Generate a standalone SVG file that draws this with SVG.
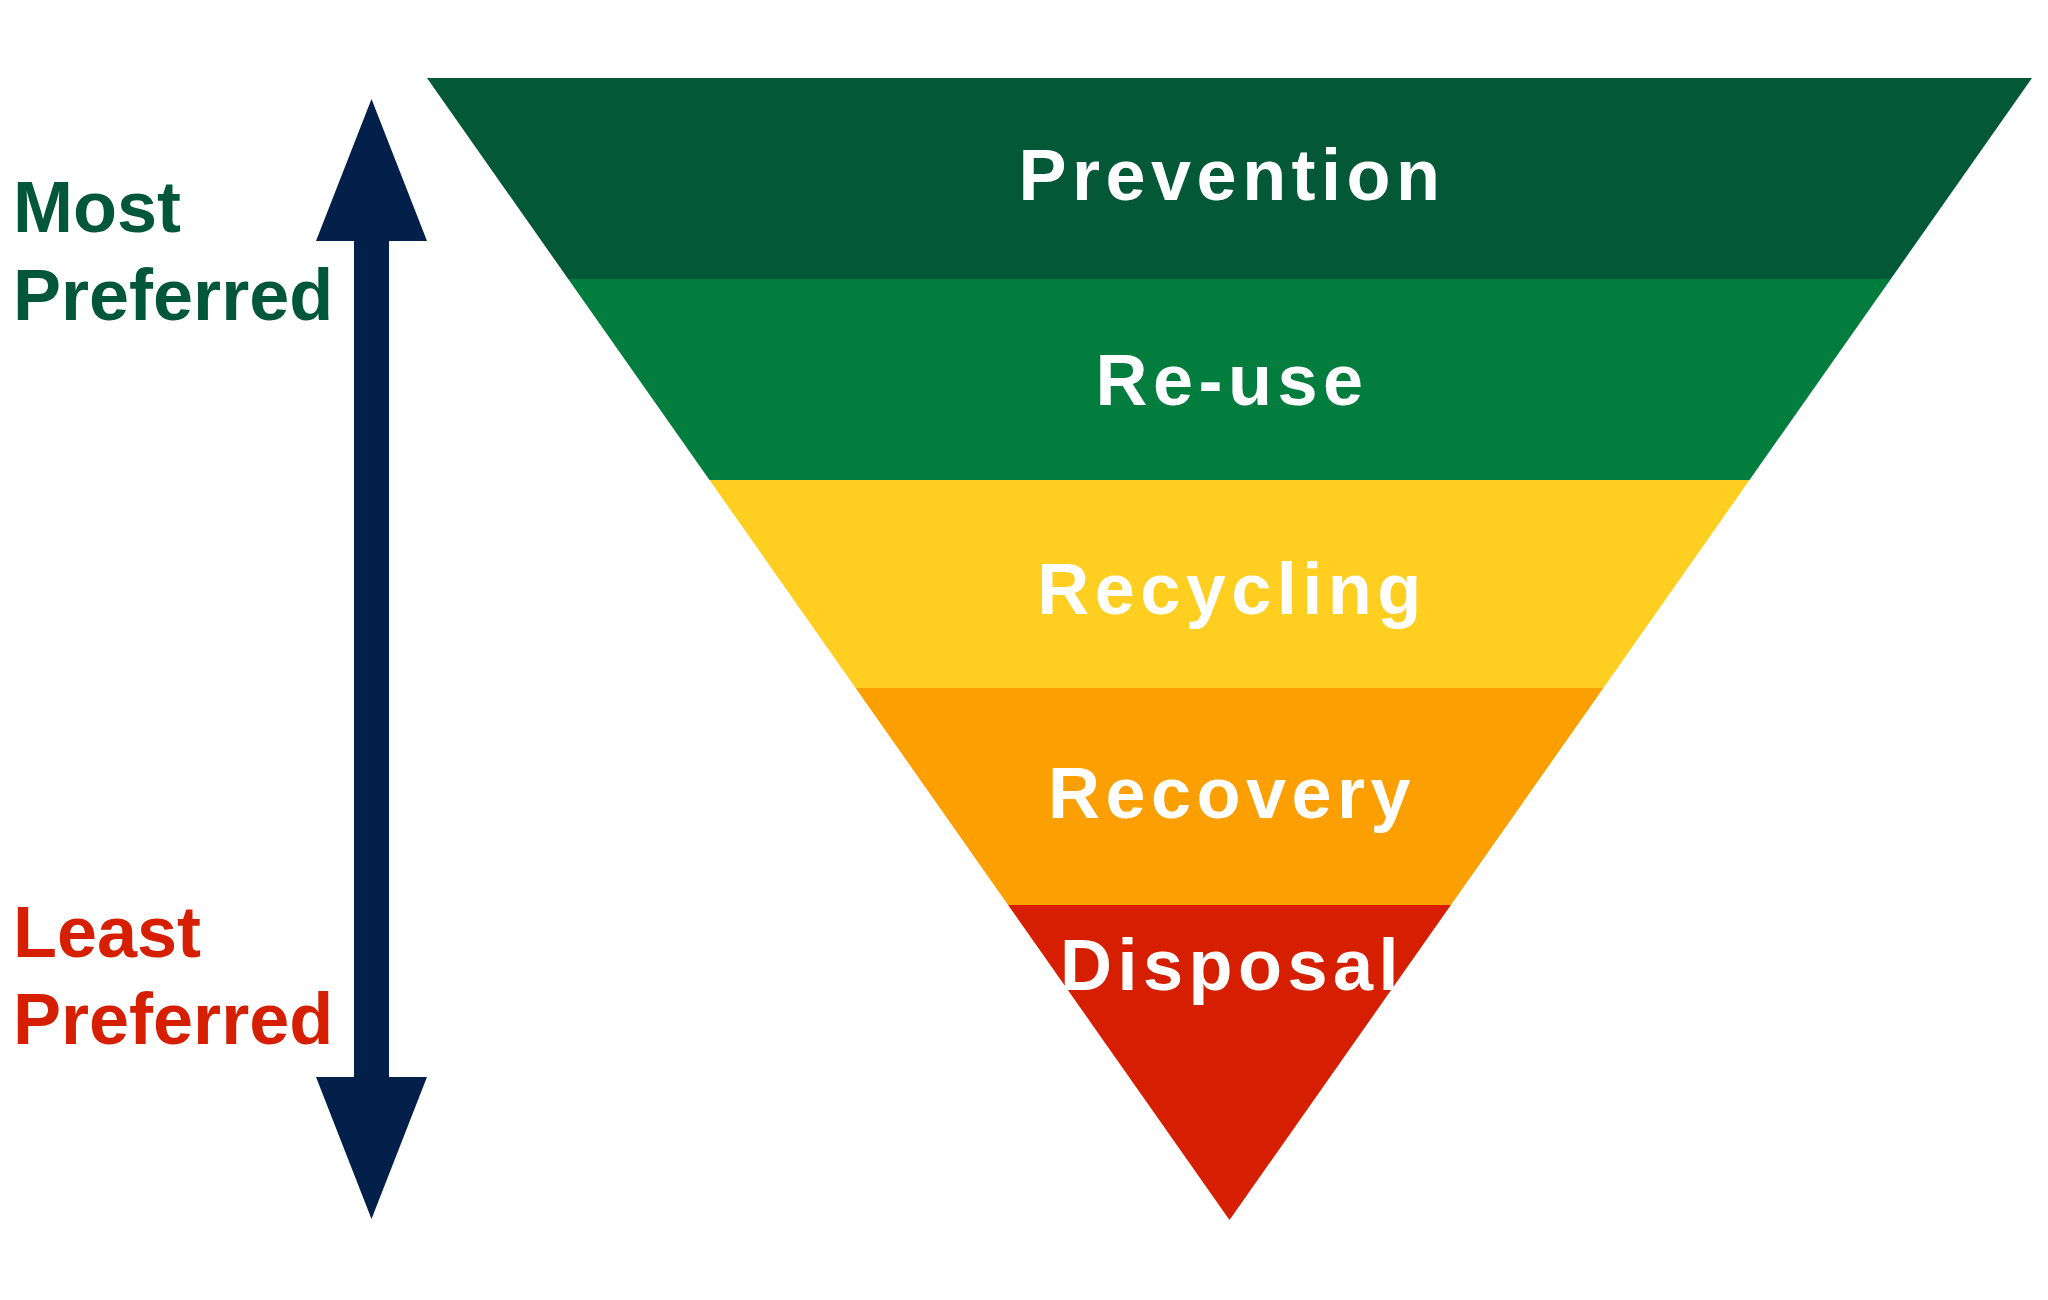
<svg xmlns="http://www.w3.org/2000/svg" width="2048" height="1300" viewBox="0 0 2048 1300">
<style>
.lbl { font-family: "Liberation Sans", Arial, Helvetica, sans-serif; font-weight: bold; font-size: 72px; fill: #ffffff; letter-spacing: 5.5px; text-anchor: middle; }
.side { font-family: "Liberation Sans", Arial, Helvetica, sans-serif; font-weight: bold; font-size: 72px; }
</style>
<rect width="2048" height="1300" fill="#ffffff"/>
<g id="prevention">
<polygon points="427,78 2032,78 1890.8,279 568.2,279" fill="#025837"/>
<text class="lbl" x="1232" y="200">Prevention</text>
</g>
<g id="reuse">
<polygon points="568.2,279 1890.8,279 1749.5,480 709.5,480" fill="#037d3e"/>
<text class="lbl" x="1232" y="405">Re-use</text>
</g>
<g id="recycling">
<polygon points="709.5,480 1749.5,480 1603.4,688 855.6,688" fill="#fece20"/>
<text class="lbl" x="1232" y="614">Recycling</text>
</g>
<g id="recovery">
<polygon points="855.6,688 1603.4,688 1450.9,905 1008.1,905" fill="#fb9f02"/>
<text class="lbl" x="1232" y="818">Recovery</text>
</g>
<g id="disposal">
<polygon points="1008.1,905 1450.9,905 1229.5,1220" fill="#d51f00"/>
<text class="lbl" x="1232" y="990">Disposal</text>
</g>
<g id="most-preferred">
<text class="side" fill="#02573a"><tspan x="13" y="232">Most</tspan><tspan x="13" y="320">Preferred</tspan></text>
</g>
<g id="least-preferred">
<text class="side" fill="#d51f00"><tspan x="13" y="957">Least</tspan><tspan x="13" y="1044">Preferred</tspan></text>
</g>
<g id="connectors">
<polygon points="371.5,99 427,241 389,241 389,1077 427,1077 371.5,1219 316,1077 354,1077 354,241 316,241" fill="#03204a"/>
</g>
</svg>
